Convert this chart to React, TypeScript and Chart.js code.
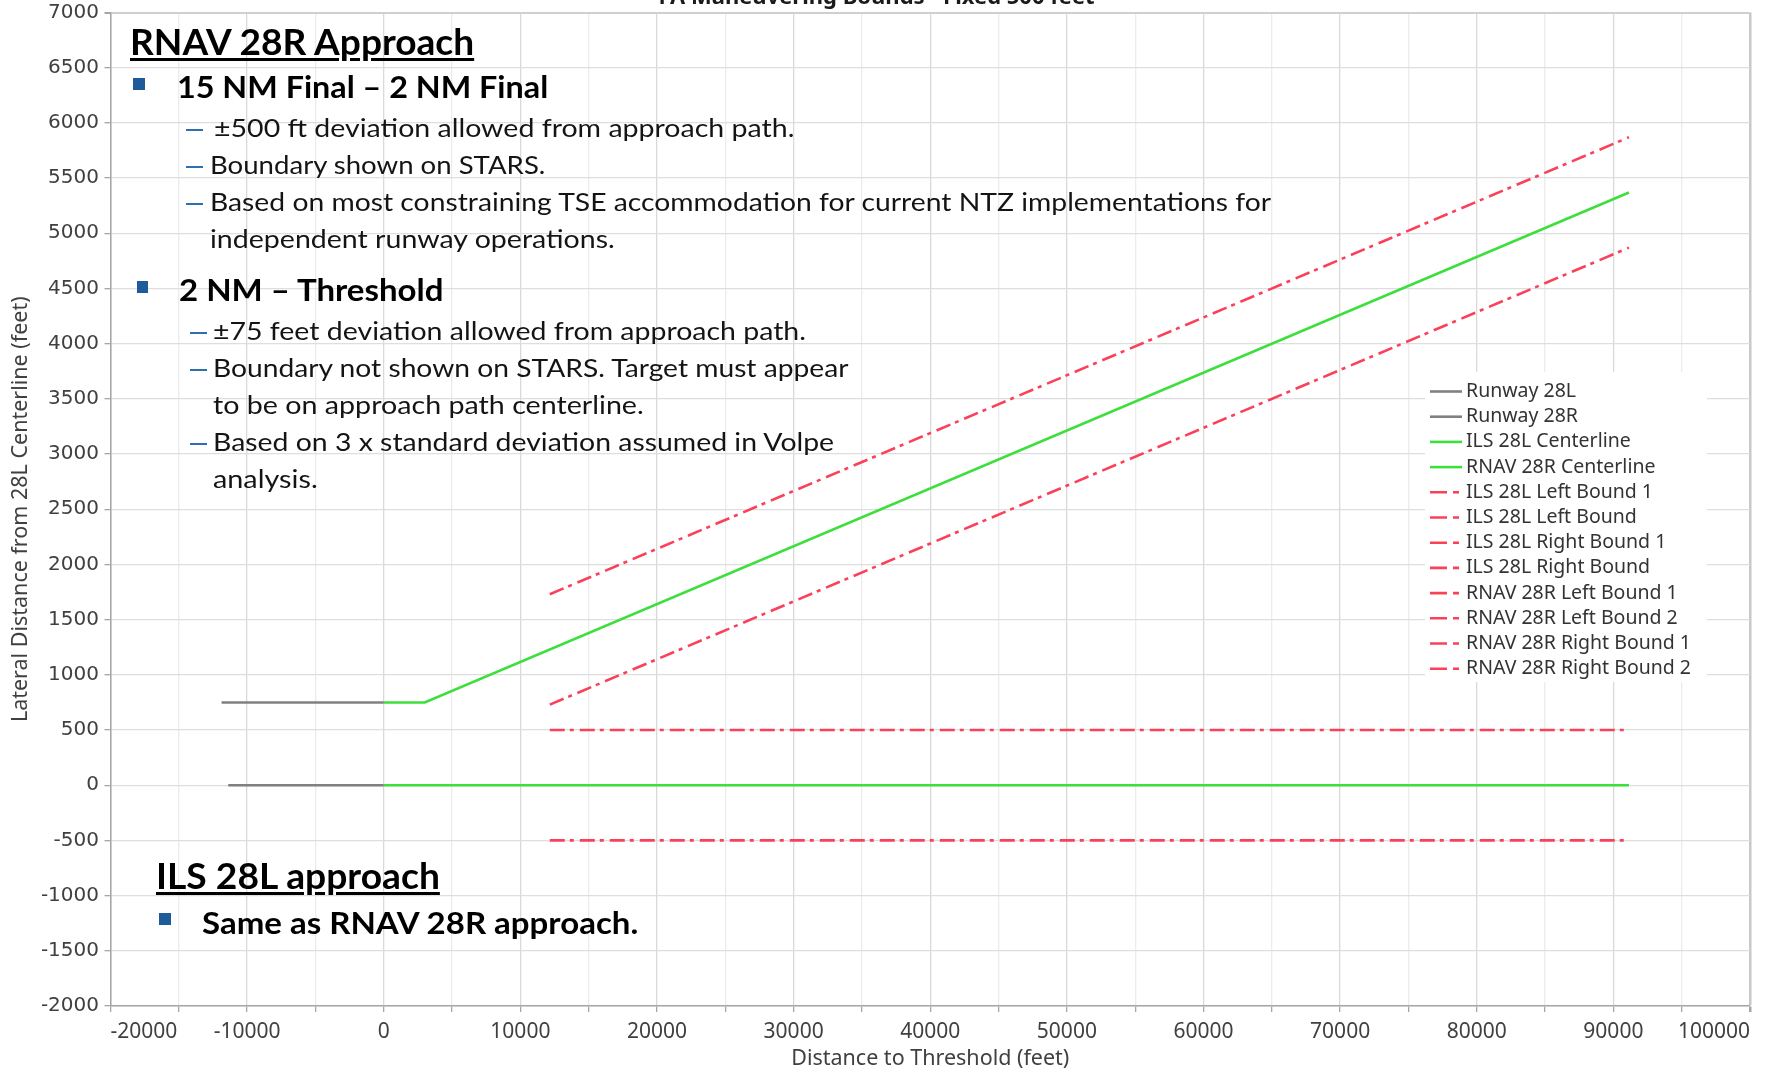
import React, { useEffect, useLayoutEffect, useRef } from 'react';
import { Chart, registerables } from 'chart.js';

Chart.register(...registerables);

// ---------- data ----------
const chartTitle = 'FA Maneuvering Bounds - Fixed 500 feet';
const xAxisTitle = 'Distance to Threshold (feet)';
const yAxisTitle = 'Lateral Distance from 28L Centerline (feet)';

const seriesLabels = [
  'Runway 28L',
  'Runway 28R',
  'ILS 28L Centerline',
  'RNAV 28R Centerline',
  'ILS 28L Left Bound 1',
  'ILS 28L Left Bound',
  'ILS 28L Right Bound 1',
  'ILS 28L Right Bound',
  'RNAV 28R Left Bound 1',
  'RNAV 28R Left Bound 2',
  'RNAV 28R Right Bound 1',
  'RNAV 28R Right Bound 2',
];

const runway28L_x = [-11381, 0];
const runway28L_y = [0, 0];
const runway28R_x = [-11870, 0];
const runway28R_y = [750, 750];
const ils28LCenterline_x = [0, 91142];
const ils28LCenterline_y = [0, 0];
const rnav28RCenterline_x = [0, 3000, 91142];
const rnav28RCenterline_y = [750, 750, 5370];
const ils28LLeftBound1_x: number[] = [];
const ils28LLeftBound1_y: number[] = [];
const ils28LLeftBound_x = [12152, 91142];
const ils28LLeftBound_y = [-500, -500];
const ils28LRightBound1_x: number[] = [];
const ils28LRightBound1_y: number[] = [];
const ils28LRightBound_x = [12152, 91142];
const ils28LRightBound_y = [500, 500];
const rnav28RLeftBound1_x: number[] = [];
const rnav28RLeftBound1_y: number[] = [];
const rnav28RLeftBound2_x = [12152, 91142];
const rnav28RLeftBound2_y = [730, 4870];
const rnav28RRightBound1_x: number[] = [];
const rnav28RRightBound1_y: number[] = [];
const rnav28RRightBound2_x = [12152, 91142];
const rnav28RRightBound2_y = [1730, 5870];

const seriesX = [
  runway28L_x, runway28R_x, ils28LCenterline_x, rnav28RCenterline_x,
  ils28LLeftBound1_x, ils28LLeftBound_x, ils28LRightBound1_x, ils28LRightBound_x,
  rnav28RLeftBound1_x, rnav28RLeftBound2_x, rnav28RRightBound1_x, rnav28RRightBound2_x,
];
const seriesY = [
  runway28L_y, runway28R_y, ils28LCenterline_y, rnav28RCenterline_y,
  ils28LLeftBound1_y, ils28LLeftBound_y, ils28LRightBound1_y, ils28LRightBound_y,
  rnav28RLeftBound1_y, rnav28RLeftBound2_y, rnav28RRightBound1_y, rnav28RRightBound2_y,
];
const seriesKind = ['runway', 'runway', 'center', 'center', 'bound', 'bound', 'bound', 'bound', 'bound', 'bound', 'bound', 'bound'];

const xMin = -20000, xMax = 100000, xStep = 5000, xLabelEvery = 10000;
const yMin = -2000, yMax = 7000, yStep = 500;

// ---------- styles ----------
const GRAY = '#808080';
const GREEN = '#3ddf3d';
const RED = '#fa4159';
const kindStyle: Record<string, any> = {
  runway: { borderColor: GRAY, borderDash: [] },
  center: { borderColor: GREEN, borderDash: [] },
  bound: { borderColor: RED, borderDash: [15, 5, 4, 6] },
};

const titlePlugin = {
  id: 'cutTitle',
  afterDraw(chart: any) {
    const ctx = chart.ctx;
    ctx.save();
    ctx.font = 'bold 22px "Noto Sans"';
    ctx.fillStyle = '#1a1a1a';
    ctx.textAlign = 'center';
    ctx.textBaseline = 'alphabetic';
    ctx.fillText(chartTitle, chart.width / 2 - 8, 4);
    ctx.restore();
  },
};

const boxLegendPlugin = {
  id: 'boxLegend',
  afterDraw(chart: any) {
    const ctx = chart.ctx;
    const area = chart.chartArea;
    const left = area.right - 325;
    const top = 372;
    ctx.save();
    ctx.fillStyle = '#ffffff';
    ctx.fillRect(left, top, 282, 310);
    ctx.font = '19.5px "Noto Sans"';
    ctx.textBaseline = 'middle';
    ctx.textAlign = 'left';
    chart.data.datasets.forEach((ds: any, i: number) => {
      const y = top + 19.5 + i * 25.2;
      ctx.strokeStyle = ds.borderColor;
      ctx.lineWidth = 2.6;
      ctx.setLineDash(ds.borderDash && ds.borderDash.length ? [17, 6, 6, 6] : []);
      ctx.beginPath();
      ctx.moveTo(left + 5, y);
      ctx.lineTo(left + 37, y);
      ctx.stroke();
      ctx.setLineDash([]);
      ctx.fillStyle = '#333333';
      ctx.fillText(ds.label, left + 41, y);
    });
    ctx.restore();
  },
};

function ChartCanvas() {
  const ref = useRef<HTMLCanvasElement>(null);
  useEffect(() => {
    const datasets = seriesLabels.map((label, i) => ({
      label,
      data: seriesX[i].map((x, j) => ({ x, y: seriesY[i][j] })),
      borderColor: kindStyle[seriesKind[i]].borderColor,
      backgroundColor: kindStyle[seriesKind[i]].borderColor,
      borderDash: kindStyle[seriesKind[i]].borderDash,
      borderWidth: 2.6,
      pointRadius: 0,
      fill: false,
      tension: 0,
    }));
    const chart = new Chart(ref.current as HTMLCanvasElement, {
      type: 'line',
      data: { datasets },
      options: {
        animation: false,
        responsive: false,
        devicePixelRatio: 1,
        layout: { padding: { top: 12.5, right: 19, bottom: 0, left: 0 } },
        plugins: {
          legend: { display: false },
          title: { display: false },
          tooltip: { enabled: false },
        },
        scales: {
          x: {
            type: 'linear',
            min: xMin,
            max: xMax,
            afterFit: (s: any) => { s.height = 69; s.paddingLeft = 0; s.paddingRight = 0; },
            ticks: {
              stepSize: xStep,
              autoSkip: false,
              maxRotation: 0,
              align: 'inner',
              padding: 7.5,
              color: '#404040',
              font: { family: '"Noto Sans"', size: 21 },
              callback: (v: any) => (Number(v) % xLabelEvery === 0 ? String(v) : ''),
            },
            grid: {
              color: (c: any) => (c.tick && c.tick.value === xMax ? '#c8c8c8' : c.tick && c.tick.value % xLabelEvery === 0 ? '#d9d9d9' : '#ececec'),
              lineWidth: (c: any) => (c.tick && c.tick.value === xMax ? 2.5 : 1.3),
              tickLength: 6,
              tickColor: '#a6a6a6',
            },
            border: { color: '#a6a6a6', width: 1.5 },
            title: {
              display: true,
              text: xAxisTitle,
              color: '#404040',
              font: { family: '"Noto Sans"', size: 21.5 },
              padding: { top: 0, bottom: 3 },
            },
          },
          y: {
            type: 'linear',
            min: yMin,
            max: yMax,
            afterFit: (s: any) => { s.width = 110.5; s.paddingTop = 0; s.paddingBottom = 0; },
            ticks: {
              stepSize: yStep,
              padding: 5.5,
              color: '#404040',
              font: { family: '"DejaVu Sans"', size: 20 },
              callback: (v: any) => String(v),
            },
            grid: {
              color: (c: any) => (c.tick && c.tick.value === yMax ? '#cfcfcf' : '#dedede'),
              lineWidth: (c: any) => (c.tick && c.tick.value === yMax ? 2 : 1.3),
              tickLength: 6,
              tickColor: '#a6a6a6',
            },
            border: { color: '#a6a6a6', width: 1.5 },
            title: {
              display: true,
              text: yAxisTitle,
              color: '#404040',
              font: { family: '"Noto Sans"', size: 21.5 },
              padding: { top: 7.5, bottom: 0 },
            },
          },
        },
      },
      plugins: [titlePlugin, boxLegendPlugin],
    } as any);
    return () => chart.destroy();
  }, []);
  return <canvas ref={ref} width={1769} height={1075} style={{ position: 'absolute', left: 0, top: 0 }} />;
}

// ---------- overlay annotation (slide text on top of the chart) ----------
const BLUE_BULLET = '#1f5b99';
const BLUE_DASH = '#2e6fb0';

type LineProps = { left: number; right: number; baseline: number; size: number; bold?: boolean; underline?: boolean; text: string };

function TextLine({ left, right, baseline, size, bold, underline, text }: LineProps) {
  return (
    <span
      data-w={right - left}
      style={{
        position: 'absolute',
        left,
        top: baseline - 0.987 * size,
        display: 'inline-block',
        whiteSpace: 'nowrap',
        fontFamily: 'Lato, "Open Sans", sans-serif',
        fontSize: size,
        lineHeight: `${1.2 * size}px`,
        fontWeight: bold ? 700 : 400,
        color: bold ? '#000' : '#141414',
        textDecoration: underline ? 'underline' : 'none',
        textDecorationThickness: underline ? '2.5px' : undefined,
        textUnderlineOffset: underline ? '3px' : undefined,
        transformOrigin: '0 0',
      }}
    >
      {text}
    </span>
  );
}

function Dash({ x, baseline }: { x: number; baseline: number }) {
  return <div style={{ position: 'absolute', left: x, top: baseline - 8.5, width: 17, height: 2.2, background: BLUE_DASH }} />;
}

function Bullet({ x, y, s }: { x: number; y: number; s: number }) {
  return <div style={{ position: 'absolute', left: x, top: y, width: s, height: s, background: BLUE_BULLET }} />;
}

export default function App() {
  const overlayRef = useRef<HTMLDivElement>(null);
  useLayoutEffect(() => {
    const root = overlayRef.current;
    if (!root) return;
    root.querySelectorAll<HTMLElement>('[data-w]').forEach((el) => {
      const target = parseFloat(el.dataset.w || '0');
      const w = el.offsetWidth;
      if (w > 0 && target > 0) el.style.transform = `scaleX(${target / w})`;
    });
  }, []);
  return (
    <div style={{ position: 'absolute', left: 0, top: 0, width: 1769, height: 1075, overflow: 'hidden', background: '#fff' }}>
      <ChartCanvas />
      <div ref={overlayRef} style={{ position: 'absolute', left: 0, top: 0, width: 1769, height: 1075, pointerEvents: 'none' }}>
        <TextLine left={129.7} right={473.8} baseline={56} size={36} bold underline text="RNAV 28R Approach" />
        <Bullet x={133} y={78} s={11.5} />
        <TextLine left={177.1} right={548.2} baseline={99} size={31} bold text="15 NM Final – 2 NM Final" />
        <Dash x={186} baseline={137} />
        <TextLine left={214.3} right={795} baseline={137} size={25} text="±500 ft deviation allowed from approach path." />
        <Dash x={186} baseline={174} />
        <TextLine left={209.8} right={545} baseline={174} size={25} text="Boundary shown on STARS." />
        <Dash x={186} baseline={211} />
        <TextLine left={209.8} right={1271} baseline={211} size={25} text="Based on most constraining TSE accommodation for current NTZ implementations for" />
        <TextLine left={209.8} right={615} baseline={248} size={25} text="independent runway operations." />
        <Bullet x={136.5} y={281} s={11.5} />
        <TextLine left={179.4} right={443.3} baseline={302} size={31} bold text="2 NM – Threshold" />
        <Dash x={189.5} baseline={340} />
        <TextLine left={213.2} right={806.5} baseline={340} size={25} text="±75 feet deviation allowed from approach path." />
        <Dash x={189.5} baseline={377} />
        <TextLine left={213.2} right={848.3} baseline={377} size={25} text="Boundary not shown on STARS. Target must appear" />
        <TextLine left={213.2} right={644} baseline={414} size={25} text="to be on approach path centerline." />
        <Dash x={189.5} baseline={451} />
        <TextLine left={213.2} right={834.7} baseline={451} size={25} text="Based on 3 x standard deviation assumed in Volpe" />
        <TextLine left={213.2} right={318} baseline={488} size={25} text="analysis." />
        <TextLine left={155.7} right={439.9} baseline={890} size={36} bold underline text="ILS 28L approach" />
        <Bullet x={159} y={913} s={12} />
        <TextLine left={201.9} right={638.4} baseline={935} size={31} bold text="Same as RNAV 28R approach." />
      </div>
    </div>
  );
}
